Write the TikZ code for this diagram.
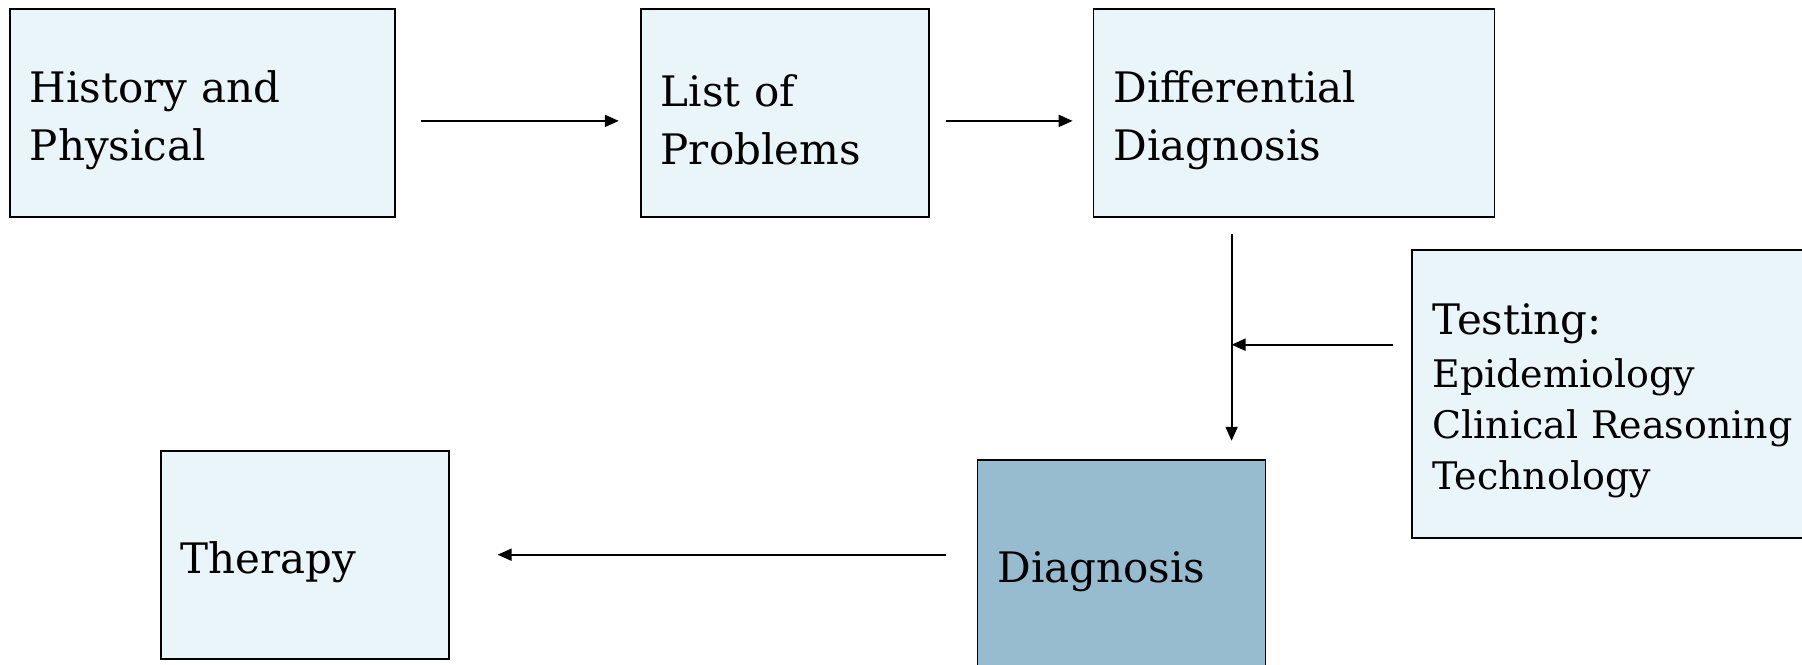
\documentclass[tikz,border=0pt]{standalone}
\usepackage{fontspec}
\setmainfont{DejaVu Serif}
\usetikzlibrary{arrows.meta, positioning}
\definecolor{paleblue}{HTML}{EAF5FA}
\definecolor{steelblue}{HTML}{97BCCF}
\newcommand{\bigtxt}{\fontsize{21pt}{29pt}\selectfont}
\newcommand{\smalltxt}{\fontsize{19pt}{25.5pt}\selectfont}

\begin{document}
\begin{tikzpicture}[
    node distance=81.5pt and 122pt,
    box/.style={rectangle, draw, line width=0.9pt, fill=paleblue, minimum height=104pt,
                inner xsep=10pt, inner ysep=0pt, align=left, font=\bigtxt,
                execute at begin node={\rule{0pt}{23pt}}},
    arrow/.style={-{Triangle[length=7pt, width=6pt]}, line width=1pt}
  ]
    \useasboundingbox (0,0) rectangle (901pt,-332pt);

    \node[box, text width=172.5pt, anchor=north west] (hist) at (4.5pt,-4pt) {History and\\Physical};
    \node[box, text width=124pt, right=122pt of hist] (list) {List of\\Problems};
    \node[box, text width=180.5pt, right=81.5pt of list] (diff) {Differential\\Diagnosis};
    \node[box, text width=184.5pt, minimum height=144pt, anchor=north west, font=\smalltxt] (test)
      at ([xshift=-42pt, yshift=-15.5pt]diff.south east)
      {{\bigtxt Testing:}\\[1pt]Epidemiology\\Clinical Reasoning\\Technology};
    \node[box, text width=124pt, fill=steelblue, anchor=north west] (diag)
      at ([xshift=-58pt, yshift=-120.5pt]diff.south west) {Diagnosis};
    \node[box, text width=124pt, left=263.5pt of diag, yshift=4.5pt] (ther) {Therapy};

    \draw[arrow] ([xshift=12.5pt, yshift=-4pt]hist.east) -- ([xshift=-10.5pt, yshift=-4pt]list.west);
    \draw[arrow] ([xshift=8pt, yshift=-4pt]list.east) -- ([xshift=-10pt, yshift=-4pt]diff.west);

    \coordinate (vtop) at ([xshift=69.5pt, yshift=-8pt]diff.south west);
    \draw[arrow] (vtop) -- ([yshift=9pt]vtop |- diag.north);
    \draw[arrow] ([xshift=-9pt, yshift=24.5pt]test.west) coordinate (tin) -- (tin -| vtop);
    \draw[arrow] ([xshift=-15.5pt]diag.west |- ther.east) -- ([xshift=24pt]ther.east);
  \end{tikzpicture}
\end{document}
